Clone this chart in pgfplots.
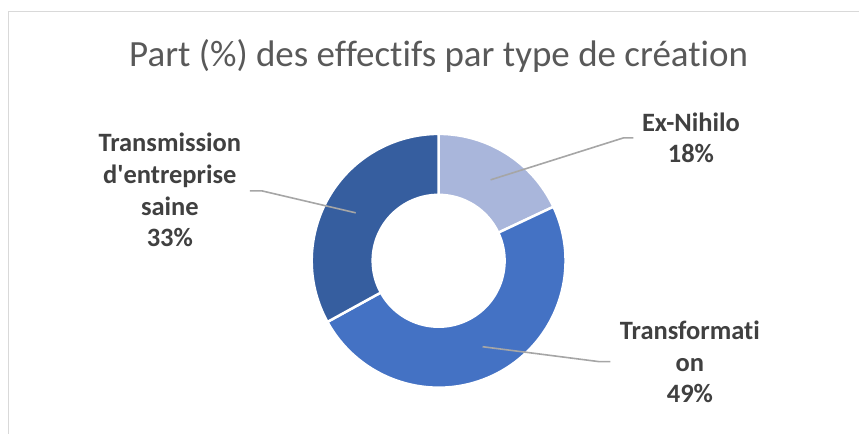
\documentclass[border=0pt]{standalone}
\usepackage{fontspec}
\setmainfont{Carlito}[Ligatures={TeXOff,NoCommon}]
\usepackage{pgfplots}
\usepackage{pgfplotstable}
\pgfplotsset{compat=1.18}
\definecolor{cEx}{HTML}{A9B6DB}
\definecolor{cTf}{HTML}{4472C4}
\definecolor{cTm}{HTML}{365E9F}
\definecolor{lead}{HTML}{A6A6A6}
\definecolor{lbl}{HTML}{404040}
\definecolor{ttl}{HTML}{595959}
\definecolor{brd}{HTML}{D9D9D9}
\pgfplotstableread{
label value
ExNihilo 18
Transformation 49
Transmission 33
}\datatable
\begin{document}
\begin{tikzpicture}
\pgfplotstablegetelem{0}{value}\of\datatable \pgfmathsetmacro{\va}{\pgfplotsretval}
\pgfplotstablegetelem{1}{value}\of\datatable \pgfmathsetmacro{\vb}{\pgfplotsretval}
\pgfplotstablegetelem{2}{value}\of\datatable \pgfmathsetmacro{\vc}{\pgfplotsretval}
\pgfmathsetmacro{\tot}{\va+\vb+\vc}
\pgfmathsetmacro{\aA}{90}
\pgfmathsetmacro{\aB}{90-\va/\tot*360}
\pgfmathsetmacro{\aC}{90-(\va+\vb)/\tot*360}
\pgfmathsetmacro{\aD}{90-360}
\begin{axis}[
  width=860pt, height=434pt, scale only axis,
  xmin=0, xmax=860, ymin=0, ymax=434, y dir=reverse,
  hide axis, clip=false,
]
\path (axis cs:0,0) rectangle (axis cs:860,434);
\def\wedge#1#2#3{%
  \fill[#1, draw=white, line width=2.5pt, line join=miter]
    ([shift={(#2:127pt)}]axis cs:439,261) arc[start angle=#2, end angle=#3, radius=127pt]
    -- ([shift={(#3:66pt)}]axis cs:439,261) arc[start angle=#3, end angle=#2, radius=66pt] -- cycle;}
\wedge{cEx}{\aA}{\aB}
\wedge{cTf}{\aB}{\aC}
\wedge{cTm}{\aC}{\aD}
% border
\draw[brd, line width=1.5pt] (axis cs:8.5,434) -- (axis cs:8.5,11.5) -- (axis cs:860,11.5);
% title
\node[anchor=base, text=ttl, font=\fontsize{37}{44}\selectfont, inner sep=0pt] at (axis cs:439,66.7) {Part (\%) des effectifs par type de création};
% leader lines
\draw[lead, line width=1.6pt] (axis cs:491,180) -- (axis cs:624,138) -- (axis cs:634,138);
\draw[lead, line width=1.6pt] (axis cs:483,347) -- (axis cs:600,362) -- (axis cs:611,362);
\draw[lead, line width=1.6pt] (axis cs:356,213) -- (axis cs:262,191) -- (axis cs:250,191);
% labels
\tikzset{lb/.style={anchor=base, text=lbl, font=\fontsize{26.5}{32}\selectfont\bfseries, inner sep=0pt}}
\node[lb] at (axis cs:691.5,131.7) {Ex-Nihilo};
\node[lb] at (axis cs:691.5,163) {18\%};
\node[lb] at (axis cs:690.5,340) {Transformati};
\node[lb] at (axis cs:690.5,371.7) {on};
\node[lb] at (axis cs:690.5,403) {49\%};
\node[lb] at (axis cs:170,151.7) {Transmission};
\node[lb] at (axis cs:170,184) {d'entreprise};
\node[lb] at (axis cs:170,216) {saine};
\node[lb] at (axis cs:170,246.7) {33\%};
\end{axis}
\end{tikzpicture}
\end{document}
